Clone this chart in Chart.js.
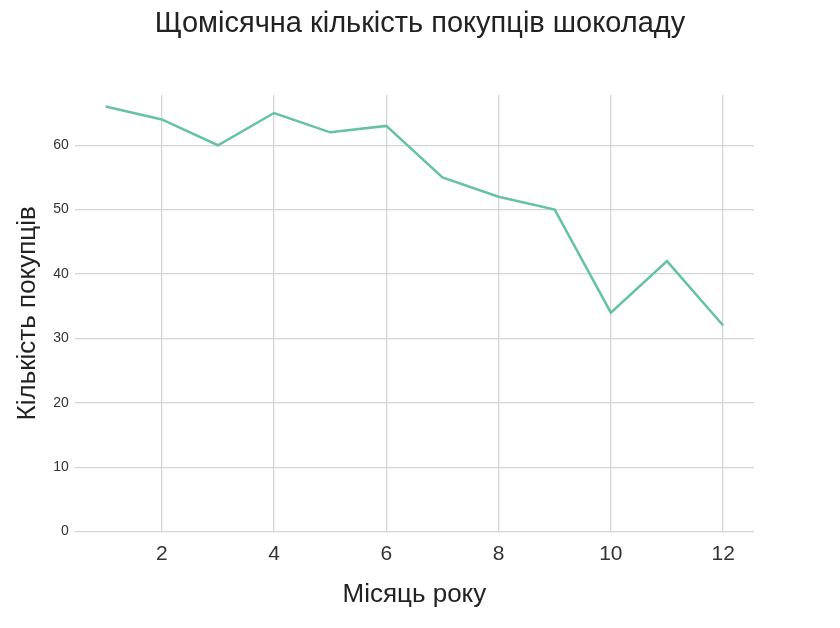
<!DOCTYPE html>
<html><head><meta charset="utf-8">
<script src="https://cdn.jsdelivr.net/npm/chart.js@4"></script>
<style>body{margin:0;background:#fff}#w{width:840px;height:628px;position:relative}
#t{position:absolute;top:6px;left:0;width:840px;text-align:center;font:29px 'Liberation Sans';color:#222}</style>
</head><body><div id="w"><div id="t">Щомісячна кількість покупців шоколаду</div><canvas id="c"></canvas></div>
<script>
const months=[1,2,3,4,5,6,7,8,9,10,11,12];
const buyers=[66,64,60,65,62,63,55,52,50,34,42,32];
const xTicks=[2,4,6,8,10,12];
const yTicks=[0,10,20,30,40,50,60];
new Chart(document.getElementById('c'),{
type:'line',
data:{datasets:[{data:months.map((m,i)=>({x:m,y:buyers[i]})),borderColor:'#66c2a5',borderWidth:2.5,pointRadius:0,tension:0}]},
options:{responsive:true,maintainAspectRatio:false,animation:false,
layout:{padding:{left:8,right:86,top:95,bottom:14}},
plugins:{legend:{display:false},tooltip:{enabled:false}},
scales:{
x:{type:'linear',min:0.45,max:12.55,afterBuildTicks:a=>{a.ticks=xTicks.map(v=>({value:v}))},
grid:{color:'#d5d5d5',lineWidth:1.3,drawTicks:false},border:{display:false},
ticks:{color:'#333',font:{family:'Liberation Sans',size:21},padding:10},
title:{display:true,text:'Місяць року',color:'#222',font:{family:'Liberation Sans',size:26},padding:{top:2}}},
y:{min:0,max:67.8,afterBuildTicks:a=>{a.ticks=yTicks.map(v=>({value:v}))},
grid:{color:'#d5d5d5',lineWidth:1.3,drawTicks:false},border:{display:false},
ticks:{color:'#333',font:{family:'Liberation Sans',size:14},padding:6},
title:{display:true,text:'Кількість покупців',color:'#222',font:{family:'Liberation Sans',size:26},padding:{bottom:4}}}
}}});
</script></body></html>
